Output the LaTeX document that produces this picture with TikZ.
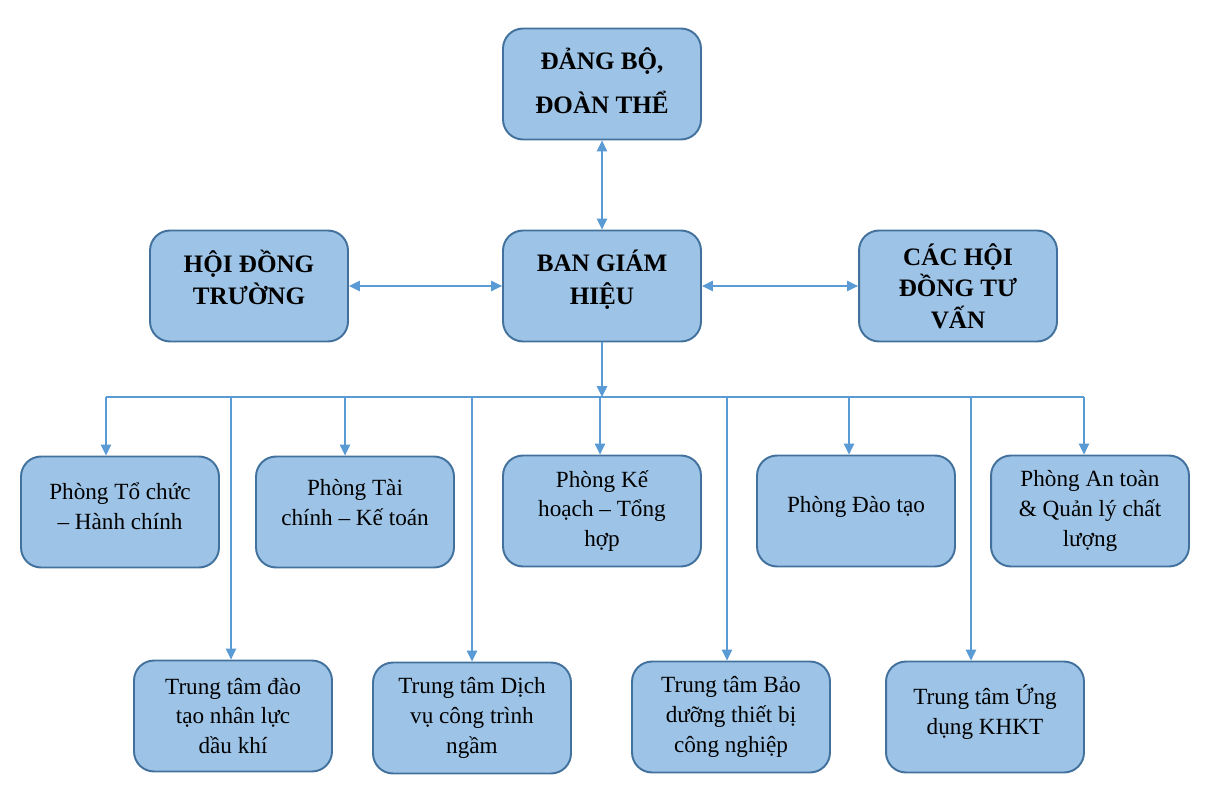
\documentclass[tikz,border=0pt]{standalone}
\usepackage{fontspec}
\setmainfont{Liberation Serif}
\usetikzlibrary{arrows.meta}
\definecolor{boxfill}{HTML}{9DC3E6}
\definecolor{boxline}{HTML}{41719C}
\definecolor{linkline}{HTML}{5B9BD5}
\tikzset{
  unit/.style={draw=boxline, line width=1.1pt, fill=boxfill, rounded corners=4mm,
    minimum width=3.96cm, minimum height=2.22cm, align=center},
  head/.style={unit, font=\fontsize{14.3}{18}\selectfont\bfseries},
  body/.style={unit, font=\fontsize{13.2}{17}\selectfont},
  wire/.style={draw=linkline, line width=0.7pt},
  link/.style={wire, -{Triangle[length=2.2mm,width=2.1mm]}},
  both/.style={wire, {Triangle[length=2.2mm,width=2.1mm]}-{Triangle[length=2.2mm,width=2.1mm]}}
}
\begin{document}
\begin{tikzpicture}[x=0.02cm,y=-0.02cm]
\useasboundingbox (0,0) rectangle (1209,800);

\node[head] (dang) at (602,84) {ĐẢNG BỘ,\\[7pt]ĐOÀN THỂ\\[-14pt]};
\node[head] (bgh) at (602,286) {BAN GIÁM\\[1pt]HIỆU\\[-8pt]};
\node[head] (hdt) at (249,286) {HỘI ĐỒNG\\TRƯỜNG\\[-8pt]};
\node[head] (hdtv) at (958,286) {CÁC HỘI\\ĐỒNG TƯ\\VẤN};

\draw[both] (dang.south) to (bgh.north);
\draw[both] (hdt.east) to (bgh.west);
\draw[both] (bgh.east) to (hdtv.west);

% phong ban
\node[body] (tchc) at (120,512) {Phòng Tổ chức\\– Hành chính\\[-10pt]};
\node[body] (tckt) at (355,512) {Phòng Tài\\chính – Kế toán\\[-6pt]};
\node[body] (khth) at (602,511) {Phòng Kế\\hoạch – Tổng\\hợp};
\node[body] (dt) at (856,511) {Phòng Đào tạo\\[-10pt]};
\node[body] (atcl) at (1090,511) {Phòng An toàn\\\& Quản lý chất\\lượng};

% trung tam
\node[body] (ttnl) at (233,716) {Trung tâm đào\\tạo nhân lực\\dầu khí};
\node[body] (ttdv) at (472,718) {Trung tâm Dịch\\vụ công trình\\ngầm};
\node[body] (ttbd) at (731,717) {Trung tâm Bảo\\dưỡng thiết bị\\công nghiệp};
\node[body] (ttud) at (985,717) {Trung tâm Ứng\\dụng KHKT\\[-9pt]};

\foreach \name/\x in {b1/106,b2/231,b3/345,b4/472,b5/600,b6/727,b7/849,b8/971,b9/1084}
  \coordinate (\name) at (\x,397);

\draw[link] (bgh.south) to (bgh.south |- b5);
\draw[wire] (b1) to (b9);
\foreach \b/\t in {b1/tchc,b2/ttnl,b3/tckt,b4/ttdv,b5/khth,b6/ttbd,b7/dt,b8/ttud,b9/atcl}
  \draw[link] (\b) to (\b |- \t.north);
\end{tikzpicture}
\end{document}
